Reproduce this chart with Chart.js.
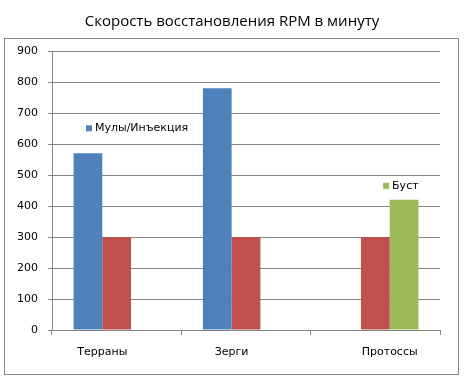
<!DOCTYPE html>
<html>
<head>
<meta charset="utf-8">
<script src="https://cdn.jsdelivr.net/npm/chart.js@4/dist/chart.umd.min.js"></script>
<style>
html,body{margin:0;padding:0;background:#fff;}
#wrap{width:464px;height:379px;position:relative;}
</style>
</head>
<body>
<div id="wrap"><canvas id="c" width="464" height="379"></canvas></div>
<script>
const titleText = "Скорость восстановления RPM в минуту";
const categories = ["Терраны", "Зерги", "Протоссы"];
const seriesNames = ["Мулы/Инъекция", "Ряд 2", "Буст"];
const muleValues = [570, 780, null];
const baseValues = [300, 300, 300];
const boostValues = [null, null, 420];
const yTicks = [0, 100, 200, 300, 400, 500, 600, 700, 800, 900];

const gridGray = "#868686";
const tickFont = {family: "DejaVu Sans", size: 11};

const framePlugin = {
  id: "frame",
  afterDraw(chart) {
    const ctx = chart.ctx;
    ctx.save();
    ctx.strokeStyle = gridGray;
    ctx.lineWidth = 1;
    ctx.strokeRect(4.5, 38.5, 454, 336);
    ctx.restore();
  }
};

// category labels centred under the bars that are present in each group
const categoryLabelPlugin = {
  id: "categoryLabels",
  afterDraw(chart) {
    const ctx = chart.ctx;
    const xScale = chart.scales.x;
    ctx.save();
    ctx.font = "11px 'DejaVu Sans'";
    ctx.fillStyle = "#000";
    ctx.textAlign = "center";
    ctx.textBaseline = "middle";
    categories.forEach((cat, i) => {
      let minX = Infinity, maxX = -Infinity;
      chart.data.datasets.forEach((ds, d) => {
        if (ds.data[i] === null || ds.data[i] === undefined) return;
        const el = chart.getDatasetMeta(d).data[i];
        minX = Math.min(minX, el.x - el.width / 2);
        maxX = Math.max(maxX, el.x + el.width / 2);
      });
      const cx = isFinite(minX) ? (minX + maxX) / 2 : xScale.getPixelForValue(i);
      ctx.fillText(cat, cx, xScale.top + 22);
    });
    ctx.restore();
  }
};

const labelPlugin = {
  id: "inlineLegend",
  afterDatasetsDraw(chart) {
    const ctx = chart.ctx;
    ctx.save();
    ctx.font = "11px 'DejaVu Sans'";
    ctx.textBaseline = "middle";
    ctx.textAlign = "left";
    const place = (dsIndex, dataIndex, dx, dy) => {
      const meta = chart.getDatasetMeta(dsIndex);
      const el = meta.data[dataIndex];
      const ds = chart.data.datasets[dsIndex];
      const x = el.x + dx;
      const y = el.y + dy;
      ctx.fillStyle = ds.backgroundColor;
      ctx.fillRect(x, y - 3, 6, 6);
      ctx.fillStyle = "#000";
      ctx.fillText(ds.label, x + 9, y);
    };
    place(0, 0, -2, -25);
    place(2, 2, -21, -14);
    ctx.restore();
  }
};

new Chart(document.getElementById("c"), {
  type: "bar",
  data: {
    labels: categories,
    datasets: [
      {label: seriesNames[0], data: muleValues, backgroundColor: "#4F81BD"},
      {label: seriesNames[1], data: baseValues, backgroundColor: "#C0504D"},
      {label: seriesNames[2], data: boostValues, backgroundColor: "#9BBB59"}
    ]
  },
  options: {
    responsive: false,
    animation: false,
    devicePixelRatio: 1,
    layout: {padding: {left: 0, right: 0, top: 0, bottom: 0}},
    datasets: {bar: {categoryPercentage: 3 / 4.5, barPercentage: 1, borderWidth: 0}},
    plugins: {
      legend: {display: false},
      tooltip: {enabled: false},
      title: {
        display: true,
        text: titleText,
        color: "#000",
        font: {family: "Open Sans", size: 15, weight: "normal"},
        padding: {top: 13, bottom: 20}
      }
    },
    scales: {
      x: {
        grid: {display: true, drawOnChartArea: false, drawTicks: true, tickLength: 5, color: gridGray, offset: true},
        border: {display: true, color: gridGray},
        ticks: {display: false},
        afterFit(scale) { scale.height = 49; }
      },
      y: {
        min: 0, max: 900,
        afterBuildTicks(scale) { scale.ticks = yTicks.map(v => ({value: v})); },
        grid: {color: gridGray, tickLength: 4, drawTicks: true},
        border: {display: true, color: gridGray},
        ticks: {color: "#000", font: tickFont, padding: 10},
        afterFit(scale) { scale.width = 52; }
      },
      yRightSpace: {
        position: "right",
        display: true,
        min: 0, max: 900,
        grid: {display: false, drawTicks: false},
        border: {display: false},
        ticks: {display: false},
        afterFit(scale) { scale.width = 24; }
      }
    }
  },
  plugins: [framePlugin, labelPlugin, categoryLabelPlugin]
});
</script>
</body>
</html>
